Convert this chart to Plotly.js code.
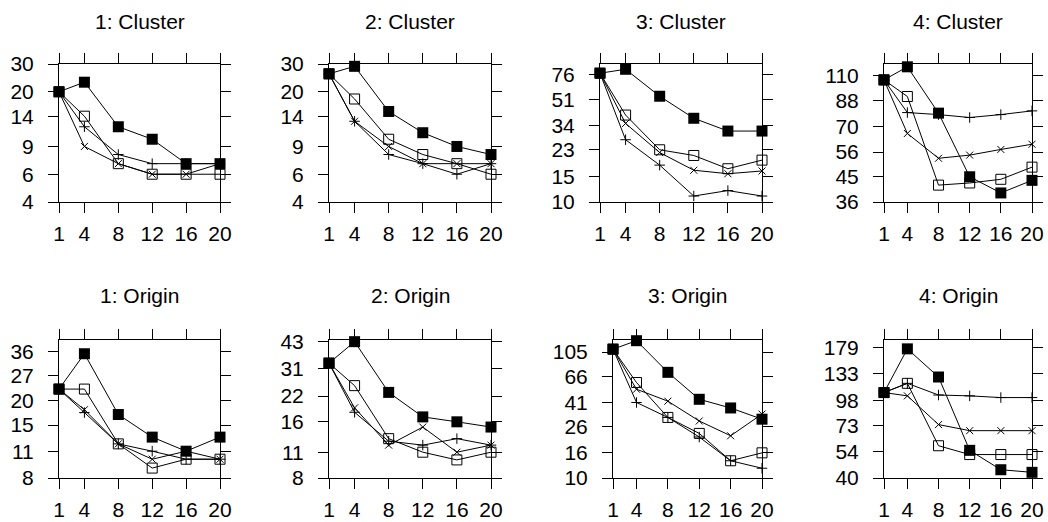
<!DOCTYPE html>
<html>
<head>
<meta charset="utf-8">
<script src="https://cdn.plot.ly/plotly-3.0.1.min.js"></script>
<style>html,body{margin:0;padding:0;background:#fff;}#chart{width:1048px;height:522px;}</style>
</head>
<body>
<div id="chart"></div>
<script>
// ---- data ----
const xValues = [1, 4, 8, 12, 16, 20];
const panelTitles = ["1: Cluster", "2: Cluster", "3: Cluster", "4: Cluster",
                     "1: Origin", "2: Origin", "3: Origin", "4: Origin"];
// one row per panel, in panelTitles order
const filledSquare = [
  [20, 23, 12, 10, 7, 7],
  [26, 29, 15, 11, 9, 8],
  [78, 83, 54, 38, 31, 31],
  [106, 119, 79, 45, 39, 43.6],
  [23, 35, 17, 13, 11, 13],
  [33, 43, 23, 17, 16, 15],
  [111, 130, 72, 43.5, 37, 30],
  [107, 177, 128, 55, 44, 42.7]
];
const openSquare = [
  [20, 14, 7, 6, 6, 6],
  [26, 18, 10, 8, 7, 6],
  [78, 40, 23, 21, 17, 19.5],
  [106, 91.5, 41.8, 42.6, 44, 49],
  [23, 23, 12, 9, 10, 10],
  [33, 25, 13, 11, 10, 11],
  [111, 59.5, 31, 23, 13.8, 16],
  [107, 119, 58, 52.4, 52.4, 52.4]
];
const plusSeries = [
  [20, 12, 8, 7, 7, 7],
  [26, 13, 8, 7, 6, 7],
  [78, 27, 18, 11, 12, 11],
  [106, 79.4, 78, 76, 78, 80.6],
  [23, 17.4, 12, 11, 10, 10],
  [33, 18, 12.6, 12, 13, 12],
  [111, 41, 31, 21.5, 13.8, 12],
  [107, 119, 104, 103, 101, 101]
];
const crossSeries = [
  [20, 9, 7, 6, 6, 7],
  [26, 13, 9, 7, 7, 7],
  [78, 35, 22, 16.6, 15.7, 16.4],
  [106, 66, 53, 54.5, 57.3, 60],
  [23, 18, 12, 10, 11, 10],
  [33, 19, 12, 15, 11, 12],
  [111, 52.5, 42, 29, 22, 33],
  [107, 103, 74, 69, 69, 69]
];
const xTickLabels = [1, 4, 8, 12, 16, 20];
const yTickLabels = [
  [4, 6, 9, 14, 20, 30],
  [4, 6, 9, 14, 20, 30],
  [10, 15, 23, 34, 51, 76],
  [36, 45, 56, 70, 88, 110],
  [8, 11, 15, 20, 27, 36],
  [8, 11, 16, 22, 31, 43],
  [10, 16, 26, 41, 66, 105],
  [40, 54, 73, 98, 133, 179]
];
const yLimits = [[4, 30], [4, 30], [10, 90.3], [36, 122], [8, 41.2], [8, 43.9], [10, 131.7], [40, 196]];

// ---- layout geometry (pixels) ----
const W = 1048, H = 522;
const colPx = [
  [[59, 220], [329, 491], [600, 762], [884, 1032]],
  [[59, 220], [329, 491], [613, 762], [884, 1032]]
];
const rowPx = [[64, 202], [340, 478]];
const titleY = [21, 295];
const FONT = "Liberation Sans, Arial, Helvetica, sans-serif";

const traces = [];
const layout = {
  width: W, height: H,
  margin: {l: 0, r: 0, t: 0, b: 0},
  paper_bgcolor: "#fff", plot_bgcolor: "#fff",
  showlegend: false,
  font: {family: FONT, size: 21, color: "#000"},
  annotations: []
};

const seriesDefs = [
  {data: filledSquare, marker: {symbol: "square", size: 11, color: "#000", line: {width: 0}}},
  {data: openSquare, marker: {symbol: "square-open", size: 10, color: "#000", line: {width: 1, color: "#000"}}},
  {data: plusSeries, marker: {symbol: "cross-thin-open", size: 7.5, color: "#000", line: {width: 1, color: "#000"}}},
  {data: crossSeries, marker: {symbol: "x-thin-open", size: 7, color: "#000", line: {width: 1, color: "#000"}}}
];

for (let p = 0; p < 8; p++) {
  const r = Math.floor(p / 4), c = p % 4;
  const [l, rr] = colPx[r][c];
  const [t, b] = rowPx[r];
  const id = p === 0 ? "" : String(p + 1);
  const xa = "x" + id, ya = "y" + id;

  seriesDefs.forEach(s => {
    traces.push({
      type: "scatter", mode: "lines+markers",
      x: xValues, y: s.data[p],
      xaxis: xa, yaxis: ya,
      line: {color: "#000", width: 1},
      marker: s.marker,
      cliponaxis: false,
      hoverinfo: "x+y"
    });
  });

  const common = {
    showline: true, linecolor: "#000", linewidth: 1,
    mirror: "ticks", ticks: "outside", ticklen: 10, tickwidth: 1, tickcolor: "#000",
    showgrid: false, zeroline: false, fixedrange: true,
    tickfont: {family: FONT, size: 21, color: "#000"}
  };
  layout["xaxis" + id] = Object.assign({}, common, {
    domain: [l / W, rr / W], anchor: ya,
    range: [1, 20], tickmode: "array", tickvals: xTickLabels,
    ticktext: xTickLabels.map(String), ticklabelstandoff: 3
  });
  layout["yaxis" + id] = Object.assign({}, common, {
    domain: [1 - b / H, 1 - t / H], anchor: xa,
    type: "log",
    range: [Math.log10(yLimits[p][0]), Math.log10(yLimits[p][1])],
    tickmode: "array", tickvals: yTickLabels[p],
    ticktext: yTickLabels[p].map(String), ticklabelstandoff: 10
  });
  layout.annotations.push({
    text: panelTitles[p], xref: "paper", yref: "paper",
    x: (l + rr) / 2 / W, y: 1 - titleY[r] / H,
    xanchor: "center", yanchor: "middle", showarrow: false,
    font: {family: FONT, size: 21, color: "#000"}
  });
}

Plotly.newPlot("chart", traces, layout, {staticPlot: true, displayModeBar: false});
</script>
</body>
</html>
